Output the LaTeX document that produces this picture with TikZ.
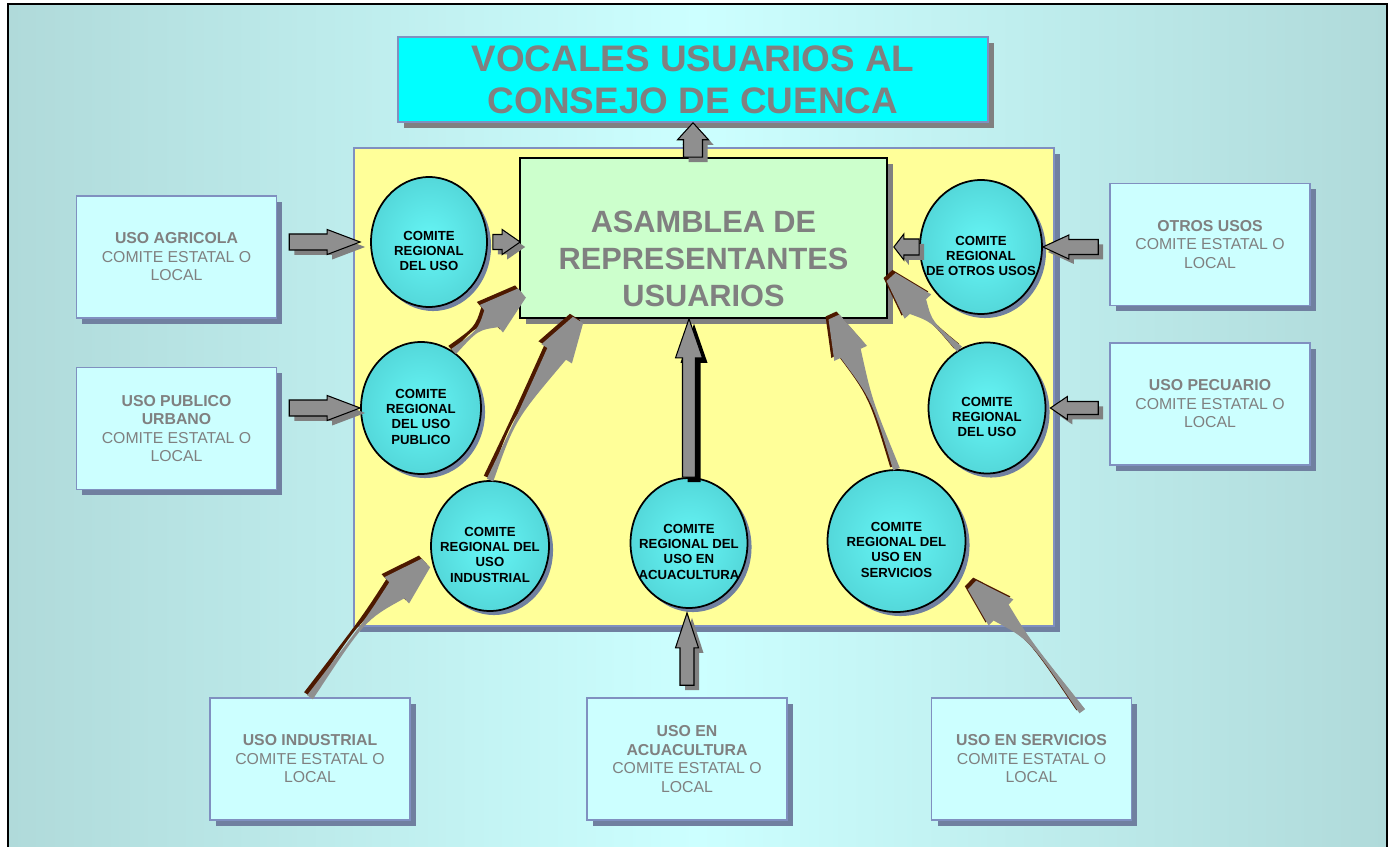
\documentclass[tikz,border=0pt]{standalone}
\usepackage{fontspec}
\setmainfont{Liberation Sans}
\usetikzlibrary{calc,shapes.geometric,shadows}
\definecolor{bgmid}{RGB}{204,255,255}
\definecolor{bgedge}{RGB}{176,218,218}
\definecolor{titlecyan}{RGB}{0,255,255}
\definecolor{panelyellow}{RGB}{255,255,153}
\definecolor{asamgreen}{RGB}{204,255,204}
\definecolor{boxcyan}{RGB}{204,255,255}
\definecolor{edgeblue}{RGB}{128,144,192}
\definecolor{shadeblue}{RGB}{112,128,160}
\definecolor{arrowgray}{RGB}{143,143,143}
\definecolor{arrowbrown}{RGB}{77,25,0}
\definecolor{txtgray}{RGB}{128,128,128}
\definecolor{ellin}{RGB}{102,246,246}
\definecolor{ellout}{RGB}{84,216,218}

\begin{document}
\begin{tikzpicture}[x=0.02cm,y=-0.02cm,
usobox/.style={draw=edgeblue,line width=0.9pt,fill=boxcyan,minimum width=4cm,minimum height=2.44cm,
  align=center,text=txtgray,font=\fontsize{9}{10.5}\selectfont,
  general shadow={fill=shadeblue,shadow xshift=3.4pt,shadow yshift=-3.4pt}},
comite/.style={ellipse,draw=black,line width=1pt,inner sep=0pt,inner color=ellin,outer color=ellout,
  general shadow={fill=shadeblue,shadow xshift=2.3pt,shadow yshift=-2.3pt}},
comtext/.style={align=center,font=\fontsize{7.5}{8.7}\selectfont\bfseries,yshift=-5pt}]

\useasboundingbox (0,0) rectangle (1392,847);
\fill[white] (0,0) rectangle (1392,847);
\shade[left color=bgedge,right color=bgedge,middle color=bgmid] (8,4) rectangle (1387,870);
\draw[line width=1.2pt] (8,4) rectangle (1387,870);

% panel and the two big boxes
\node[draw=edgeblue,line width=0.9pt,fill=panelyellow,minimum width=14cm,minimum height=9.56cm,
  general shadow={fill=shadeblue,shadow xshift=3.4pt,shadow yshift=-3.4pt}] (panel) at (704,387) {};
\node[draw=edgeblue,line width=0.9pt,fill=titlecyan,minimum width=11.8cm,minimum height=1.7cm,
  align=center,text=txtgray,font=\fontsize{21}{24}\selectfont\bfseries,
  general shadow={fill=txtgray,shadow xshift=3.4pt,shadow yshift=-3.4pt}] (title) at (693,79.5)
  {VOCALES USUARIOS AL\\CONSEJO DE CUENCA};
\node[draw=black,line width=1pt,fill=asamgreen,minimum width=7.34cm,minimum height=3.2cm,
  general shadow={fill=txtgray,shadow xshift=3.4pt,shadow yshift=-3.4pt},
  label={[align=center,text=txtgray,font=\fontsize{17.5}{21}\selectfont\bfseries,yshift=-12pt]center:ASAMBLEA DE\\REPRESENTANTES\\USUARIOS}] (green) at (703.5,238) {};

% comites regionales
\node[comite,minimum width=2.32cm,minimum height=2.6cm,label={[comtext]center:COMITE\\REGIONAL\\DEL USO}] (e1) at (429,242) {};
\node[comite,minimum width=2.4cm,minimum height=2.64cm,label={[comtext]center:COMITE\\REGIONAL\\DEL USO\\PUBLICO}] (e2) at (421,408) {};
\node[comite,minimum width=2.36cm,minimum height=2.6cm,label={[comtext]center:COMITE\\REGIONAL DEL\\USO\\INDUSTRIAL}] (e3) at (490,546) {};
\node[comite,minimum width=2.34cm,minimum height=2.6cm,label={[comtext]center:COMITE\\REGIONAL DEL\\USO EN\\ACUACULTURA}] (e4) at (689,543) {};
\node[comite,minimum width=2.76cm,minimum height=2.84cm,label={[comtext]center:COMITE\\REGIONAL DEL\\USO EN\\SERVICIOS}] (e5) at (896.5,541) {};
\node[comite,minimum width=2.44cm,minimum height=2.68cm,label={[comtext]center:COMITE\\REGIONAL\\DE OTROS USOS}] (e6) at (981,247) {};
\node[comite,minimum width=2.34cm,minimum height=2.62cm,label={[comtext]center:COMITE\\REGIONAL\\DEL USO}] (e7) at (987,408) {};

% comites estatales o locales
\node[usobox] (agri) at (176.5,257) {\textbf{USO AGRICOLA}\\COMITE ESTATAL O\\LOCAL};
\node[usobox] (publ) at (176.5,428.5) {\textbf{USO PUBLICO}\\\textbf{URBANO}\\COMITE ESTATAL O\\LOCAL};
\node[usobox] (otros) at (1210,244.5) {\textbf{OTROS USOS}\\COMITE ESTATAL O\\LOCAL};
\node[usobox] (pecu) at (1210,404) {\textbf{USO PECUARIO}\\COMITE ESTATAL O\\LOCAL};
\node[usobox] (indu) at (310,759) {\textbf{USO INDUSTRIAL}\\COMITE ESTATAL O\\LOCAL};
\node[usobox] (acua) at (687,759) {\textbf{USO EN}\\\textbf{ACUACULTURA}\\COMITE ESTATAL O\\LOCAL};
\node[usobox] (serv) at (1031.5,759) {\textbf{USO EN SERVICIOS}\\COMITE ESTATAL O\\LOCAL};

% block arrows: start, tip, half shaft, half head, head length, shadow
\def\blockarrow#1#2#3#4#5#6{%
\foreach \dx/\dy/\col/\dcol in {0.1cm/-0.1cm/#6/none,0cm/0cm/arrowgray/black} {
\path[fill=\col,draw=\dcol,line width=0.6pt,transform canvas={xshift=\dx,yshift=\dy}]
  ($(#1)!#3!90:(#2)$) -- ($(#2)!#5!(#1)!#3!-90:(#1)$) -- ($(#2)!#5!(#1)!#4!-90:(#1)$) -- (#2)
  -- ($(#2)!#5!(#1)!#4!90:(#1)$) -- ($(#2)!#5!(#1)!#3!90:(#1)$) -- ($(#1)!#3!-90:(#2)$) -- cycle;
}}
\coordinate (h1s) at ($(e1.west -| agri.east)+(12,0)$);
\coordinate (h1t) at ($(e1.west)+(-10,0)$);
\blockarrow{h1s}{h1t}{0.16cm}{0.25cm}{0.66cm}{txtgray}
\coordinate (h2s) at ($(e1.east)+(5,0)$);
\coordinate (h2t) at ($(e1.east -| green.west)+(1,0)$);
\blockarrow{h2s}{h2t}{0.15cm}{0.25cm}{0.36cm}{txtgray}
\coordinate (h3s) at ($(e2.west -| publ.east)+(12,0)$);
\blockarrow{h3s}{e2.west}{0.16cm}{0.25cm}{0.66cm}{txtgray}
\coordinate (h4s) at ($(e6.east -| otros.west)+(-11,0)$);
\blockarrow{h4s}{e6.east}{0.15cm}{0.24cm}{0.52cm}{txtgray}
\coordinate (h5t) at ($(e6.west -| green.east)+(6,0)$);
\blockarrow{e6.west}{h5t}{0.16cm}{0.26cm}{0.2cm}{txtgray}
\coordinate (h6s) at ($(e7.east -| pecu.west)+(-11,0)$);
\coordinate (h6t) at ($(e7.east)+(4,0)$);
\blockarrow{h6s}{h6t}{0.13cm}{0.23cm}{0.34cm}{txtgray}
\coordinate (v1s) at ($(acua.north)+(0,-12)$);
\coordinate (v1t) at ($(e4.south -| acua.north)+(0,4)$);
\blockarrow{v1s}{v1t}{0.14cm}{0.23cm}{0.7cm}{txtgray}
\coordinate (v2t) at (e4.north |- green.south);
\blockarrow{e4.north}{v2t}{0.13cm}{0.27cm}{0.78cm}{black}
\coordinate (v3s) at (green.north -| title.south);
\blockarrow{v3s}{title.south}{0.19cm}{0.31cm}{0.34cm}{txtgray}

% curved arrows: tail, control, tip
\def\curvarrow#1#2#3{%
\foreach \dx/\dy/\col in {-0.06cm/0.06cm/arrowbrown,0cm/0cm/arrowgray} {
\fill[\col,transform canvas={xshift=\dx,yshift=\dy}]
  ($(#1)!0.07cm!90:(#2)$) .. controls (#2) .. ($(#3)!0.8cm!(#2)!0.22cm!90:(#3)$)
  -- ($(#3)!0.8cm!(#2)!0.36cm!90:(#3)$) -- ($(#3)!0.12cm!-90:(#2)$) -- ($(#3)!0.12cm!90:(#2)$)
  -- ($(#3)!0.8cm!(#2)!0.36cm!-90:(#3)$) -- ($(#3)!0.8cm!(#2)!0.22cm!-90:(#3)$)
  .. controls (#2) .. ($(#1)!0.07cm!-90:(#2)$) -- cycle;
}}
\coordinate (ta) at (522,293);
\coordinate (tb) at (578,320);
\coordinate (tc) at (426,563);
\coordinate (td) at (834,317);
\coordinate (te) at (891,277);
\coordinate (tf) at (972,585);
\coordinate (fs) at ($(serv.north east)+(-50,14)$);
\curvarrow{e2.60}{478,330}{ta}
\curvarrow{e3.north}{515,420}{tb}
\curvarrow{indu.north}{365,620}{tc}
\curvarrow{e5.north}{872,400}{td}
\curvarrow{e7.115}{932,322}{te}
\curvarrow{fs}{1030,640}{tf}

\end{tikzpicture}
\end{document}
